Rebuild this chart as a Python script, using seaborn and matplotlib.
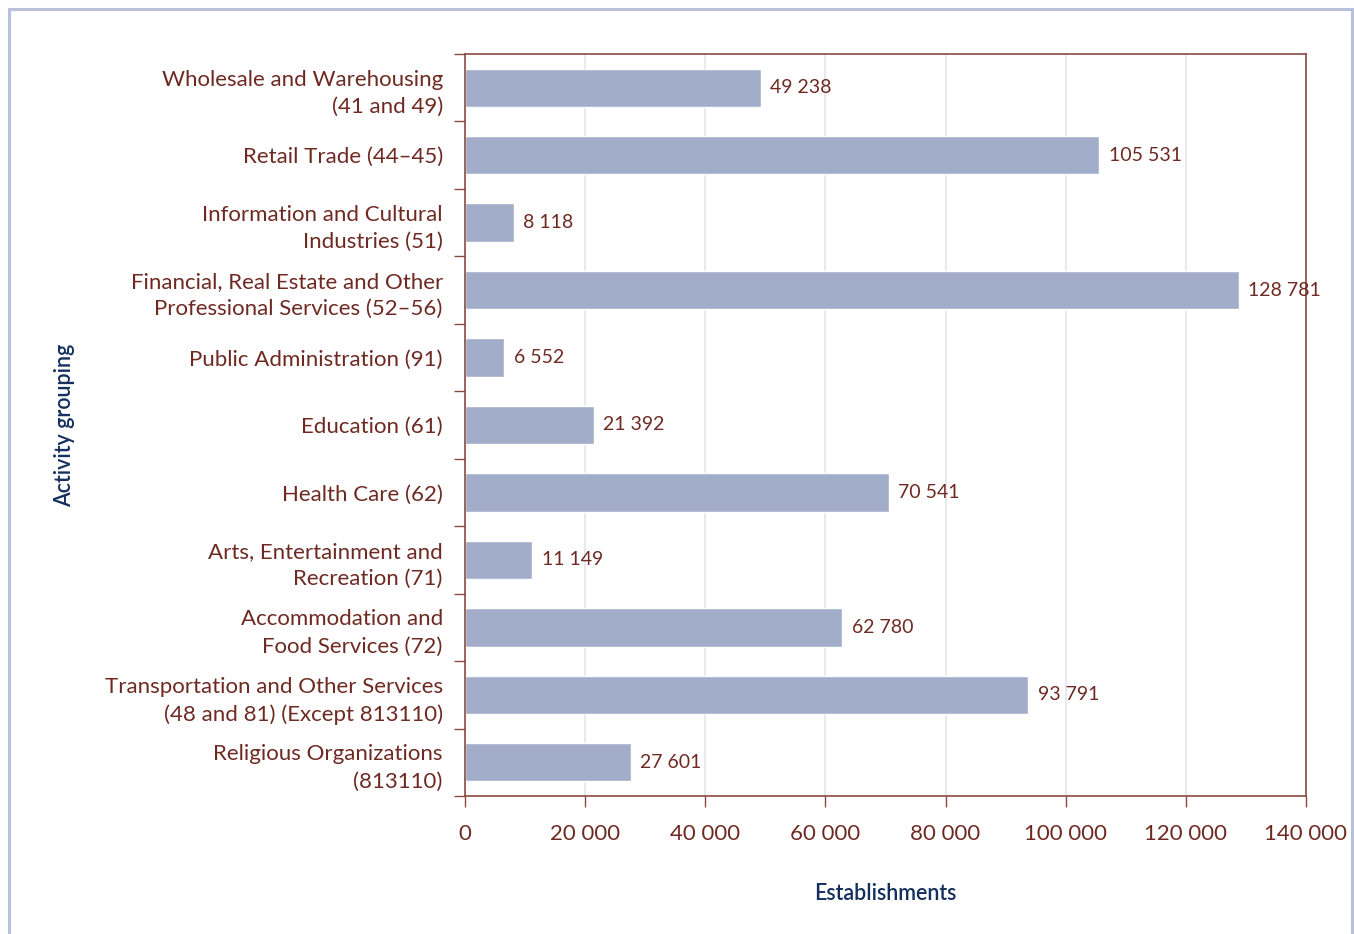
import matplotlib
matplotlib.use("Agg")
import matplotlib.pyplot as plt
import seaborn as sns
import pandas as pd
from matplotlib.patches import Rectangle

categories = [
    "Wholesale and Warehousing\n(41 and 49)",
    "Retail Trade (44–45)",
    "Information and Cultural\nIndustries (51)",
    "Financial, Real Estate and Other\nProfessional Services (52–56)",
    "Public Administration (91)",
    "Education (61)",
    "Health Care (62)",
    "Arts, Entertainment and\nRecreation (71)",
    "Accommodation and\nFood Services (72)",
    "Transportation and Other Services\n(48 and 81) (Except 813110)",
    "Religious Organizations\n(813110)",
]
establishments = [49238, 105531, 8118, 128781, 6552, 21392, 70541, 11149, 62780, 93791, 27601]
x_ticks = [0, 20000, 40000, 60000, 80000, 100000, 120000, 140000]

sns.set_theme(style="white")
plt.rcParams["font.family"] = ["Lato", "DejaVu Sans"]

text_col = "#6e2a22"
axis_col = "#8a4a40"
label_col = "#15305e"
bar_col = "#a2adca"
grid_col = "#e2e5ef"

df = pd.DataFrame({"group": categories, "value": establishments})

fig = plt.figure(figsize=(13.54, 9.34), dpi=100)
ax = fig.add_axes([465 / 1354, 1 - 796 / 934, (1306 - 465) / 1354, (796 - 54) / 934])

sns.barplot(data=df, x="value", y="group", orient="h", color=bar_col,
            saturation=1, width=0.57, ax=ax, zorder=2)

ax.set_xlim(0, 140000)
ax.set_ylim(len(categories) - 0.5, -0.5)
ax.set_xticks(x_ticks)
ax.set_xticklabels([f"{v:,}".replace(",", " ") for v in x_ticks],
                   fontsize=16, color=text_col)
ax.tick_params(axis="x", length=8, width=1, color=axis_col, direction="out", pad=12, bottom=True)

# category labels centred on bars, tick marks on the boundaries between categories
ax.set_yticks(range(len(categories)))
ax.set_yticklabels(categories, fontsize=16, color=text_col, linespacing=1.45)
ax.tick_params(axis="y", which="major", length=0, pad=16)
ax.set_yticks([i - 0.5 for i in range(len(categories) + 1)], minor=True)
ax.tick_params(axis="y", which="minor", length=8, width=1, color=axis_col, direction="out", left=True)

ax.xaxis.grid(True, color=grid_col, linewidth=1.2, zorder=0)
ax.yaxis.grid(False)
ax.set_axisbelow(True)

for s in ax.spines.values():
    s.set_color(axis_col)
    s.set_linewidth(1.2)
    s.set_visible(True)

for i, v in enumerate(establishments):
    ax.text(v + 1600, i, f"{v:,}".replace(",", " "), va="center", ha="left",
            fontsize=14, color=text_col)

ax.set_xlabel("Establishments", fontsize=15.5, color=label_col, fontweight="semibold", labelpad=28)
ax.set_ylabel("Activity grouping", fontsize=15.5, color=label_col, fontweight="semibold")
ax.yaxis.set_label_coords(-(465 - 75) / 841, 0.5)

fig.patches.append(Rectangle((9 / 1354, -0.02), (1352 - 9) / 1354, 1.02 - 9 / 934,
                             transform=fig.transFigure, fill=False,
                             edgecolor="#b7bfda", linewidth=2.2, zorder=0))

fig.savefig("out.png", dpi=100)
